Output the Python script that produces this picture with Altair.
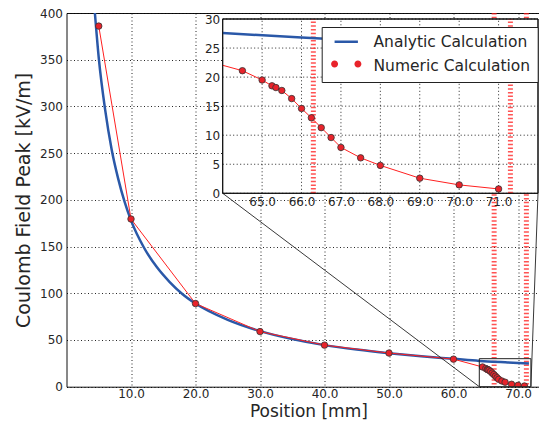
import altair as alt
import pandas as pd

# ---------------- data ----------------
series_names = ["Analytic Calculation", "Numeric Calculation"]

analytic_x = [4.4, 5, 6, 7, 8, 9, 10, 12, 14, 16, 18, 20, 25, 30, 35, 40, 45, 50, 55, 60, 64, 66, 68, 70, 71.7]
analytic_y = [400, 352, 296, 254, 223, 198, 178, 149, 128, 112, 99, 89, 71.5, 59.5, 51, 44.5, 39.7, 35.8, 32.5, 29.8, 27.6, 26.8, 26.1, 25.4, 24.8]

numeric_x = [5, 10, 20, 30, 40, 50, 60, 64.5, 65.0, 65.25, 65.35, 65.5, 65.75, 66.0, 66.25, 66.5, 66.75, 67.0, 67.5, 68.0, 69.0, 70.0, 71.0]
numeric_y = [386, 179.5, 89, 59, 44.5, 36, 29.5, 21.1, 19.5, 18.5, 18.2, 17.7, 16.3, 14.6, 13.0, 11.3, 9.6, 7.9, 6.1, 4.8, 2.6, 1.45, 0.75]

marker_x = [66.3, 71.3]

main_xticks = [10, 20, 30, 40, 50, 60, 70]
main_yticks = [0, 50, 100, 150, 200, 250, 300, 350, 400]
inset_xticks = [65, 66, 67, 68, 69, 70, 71]
inset_yticks = [0, 5, 10, 15, 20, 25, 30]

main_xdomain = [0, 75]
main_ydomain = [0, 400]
inset_xdomain = [64, 72]
inset_ydomain = [0, 30]

# ---------------- styles / layout ----------------
BLUE = "#2a58a8"
RED_LINE = "#ff2020"
RED_FILL = "#e8232b"
EDGE = "#333333"
TXT = "#262626"
FONT = "DejaVu Sans"

PAD_LEFT = 58.5
PAD_TOP = 5
SVG_W = 531
SVG_H = 413
MAIN_W = 483.75
MAIN_H = 373.7
INSET_LEFT = 156.2
INSET_W = 315.3
INSET_TOP = 6.0
INSET_BOTTOM = 180.3

LEG_X = 255.2
LEG_Y = 14
LEG_ROW = 22.3
LINE_PATH = "M-2,0L2,0"
DOTS_PATH = ("M-1.4,0A0.6,0.6 0 1,0 -2.6,0A0.6,0.6 0 1,0 -1.4,0Z "
             "M2.6,0A0.6,0.6 0 1,0 1.4,0A0.6,0.6 0 1,0 2.6,0Z")

ana = pd.DataFrame({"x": analytic_x, "y": analytic_y, "series": series_names[0]})
num = pd.DataFrame({"x": numeric_x, "y": numeric_y, "series": series_names[1]})
mk = pd.DataFrame({"x": marker_x})
box = pd.DataFrame({"x": [inset_xdomain[0]], "x2": [inset_xdomain[1]],
                    "y": [inset_ydomain[0]], "y2": [inset_ydomain[1]]})
ixt = pd.DataFrame({"x": inset_xticks})
iyt = pd.DataFrame({"y": inset_yticks})

# ---------------- main plot ----------------
xs = alt.Scale(domain=main_xdomain, nice=False, zero=False)
ys = alt.Scale(domain=main_ydomain, nice=False)

x_axis = alt.Axis(values=main_xticks, format=".1f", title="Position [mm]", grid=True,
                  gridColor="#000000", gridDash=[1, 2.5], gridWidth=1, gridOpacity=0.85,
                  ticks=False, domain=False, labelFontSize=12, labelColor=TXT, labelFont=FONT,
                  labelPadding=2, titleFontSize=17, titleFontWeight="normal", titleColor=TXT,
                  titleFont=FONT, titleBaseline="alphabetic", titleY=30)
y_axis = alt.Axis(values=main_yticks, format="d", title="Coulomb Field Peak [kV/m]", grid=True,
                  gridColor="#000000", gridDash=[1, 2.5], gridWidth=1, gridOpacity=0.85,
                  ticks=False, domain=False, labelFontSize=12, labelColor=TXT, labelFont=FONT,
                  labelPadding=4, titleFontSize=19, titleFontWeight="normal", titleColor=TXT,
                  titleFont=FONT, titlePadding=6)

X = alt.X("x:Q", scale=xs, axis=x_axis)
Y = alt.Y("y:Q", scale=ys, axis=y_axis)

m_vlines = alt.Chart(mk).mark_rule(color="#ff1a1a", strokeWidth=5, strokeDash=[1.5, 2.2],
                                   opacity=0.75).encode(x=X)
m_blue = alt.Chart(ana).mark_line(color=BLUE, strokeWidth=2.5, interpolate="monotone",
                                  clip=True).encode(x=X, y=Y)
m_red = alt.Chart(num).mark_line(color=RED_LINE, strokeWidth=1, clip=True).encode(x=X, y=Y)
m_pts = alt.Chart(num).mark_circle(size=42, color=RED_FILL, stroke=EDGE, strokeWidth=0.8,
                                   opacity=1, clip=True).encode(x=X, y=Y)
m_box = alt.Chart(box).mark_rect(fillOpacity=0, stroke="#222222", strokeWidth=1).encode(
    x=X, x2="x2:Q", y=Y, y2="y2:Q")
m_con1 = alt.Chart(box).mark_rule(color="#222222", strokeWidth=0.9).encode(
    x=X, y=Y, x2=alt.value(INSET_LEFT), y2=alt.value(INSET_BOTTOM))
m_con2 = alt.Chart(box).mark_rule(color="#222222", strokeWidth=0.9).encode(
    x=alt.X("x2:Q", scale=xs, axis=x_axis), y=Y,
    x2=alt.value(INSET_LEFT + INSET_W), y2=alt.value(INSET_BOTTOM))

main_layer = alt.layer(m_vlines, m_blue, m_red, m_pts, m_box, m_con1, m_con2)

# ---------------- inset (own scales mapped into a sub-rectangle) ----------------
ixs = alt.Scale(domain=inset_xdomain, nice=False, zero=False,
                range=[INSET_LEFT, INSET_LEFT + INSET_W])
iys = alt.Scale(domain=inset_ydomain, nice=False, range=[INSET_BOTTOM, INSET_TOP])
ix_axis = alt.Axis(orient="bottom", offset=-(MAIN_H - INSET_BOTTOM), values=inset_xticks,
                   format=".1f", title=None, grid=False, ticks=False, domain=False,
                   labelFontSize=12, labelColor=TXT, labelFont=FONT, labelPadding=3, zindex=1)
iy_axis = alt.Axis(orient="left", offset=-INSET_LEFT, values=inset_yticks, format="d",
                   title=None, grid=False, ticks=False, domain=False, labelFontSize=12,
                   labelColor=TXT, labelFont=FONT, labelPadding=3, zindex=1)
IX = alt.X("x:Q", scale=ixs, axis=ix_axis)
IY = alt.Y("y:Q", scale=iys, axis=iy_axis)

common_leg = dict(title=None, orient="none", legendX=LEG_X, padding=7, cornerRadius=0,
                  labelFontSize=15.5, labelFont=FONT, symbolSize=136, symbolOffset=9.8,
                  labelOffset=19.5, rowPadding=LEG_ROW - 15.5)

leg_a = alt.Legend(legendY=LEG_Y, fillColor="white", strokeColor="#222222",
                   labelColor=TXT, symbolType=LINE_PATH, symbolStrokeWidth=2.5,
                   symbolFillColor="transparent", symbolOpacity=1, zindex=1, **common_leg)
COLOR = alt.Color("series:N", scale=alt.Scale(domain=series_names, range=[BLUE, "transparent"]),
                  legend=leg_a)
leg_c = alt.Legend(legendY=LEG_Y + LEG_ROW, labelOpacity=0, symbolType=LINE_PATH,
                   symbolStrokeColor=RED_LINE, symbolStrokeWidth=1.2, symbolOpacity=1,
                   symbolFillColor="transparent", zindex=2, **common_leg)
DASH = alt.StrokeDash("series:N", scale=alt.Scale(domain=[series_names[1]], range=[[1, 0]]),
                      legend=leg_c)
leg_b = alt.Legend(legendY=LEG_Y + LEG_ROW, labelOpacity=0, symbolType=DOTS_PATH,
                   symbolFillColor=RED_FILL, symbolStrokeColor=EDGE, symbolStrokeWidth=0.7,
                   symbolOpacity=1, zindex=3, **common_leg)
SHAPE = alt.Shape("series:N", scale=alt.Scale(domain=[series_names[1]], range=[DOTS_PATH]),
                  legend=leg_b)

X0 = inset_xdomain[0]
X1 = inset_xdomain[1]
inside = f"datum.x >= {X0} && datum.x <= {X1}"

i_bg = alt.Chart(box).mark_rect(fill="white", stroke="#111111", strokeWidth=1).encode(
    x=IX, x2="x2:Q", y=IY, y2="y2:Q")
i_gx = alt.Chart(ixt).mark_rule(color="#000000", strokeDash=[1, 2.5], strokeWidth=1,
                                opacity=0.85).encode(
    x=IX, y=alt.datum(inset_ydomain[0]), y2=alt.datum(inset_ydomain[1]))
i_gy = alt.Chart(iyt).mark_rule(color="#000000", strokeDash=[1, 2.5], strokeWidth=1,
                                opacity=0.85).encode(
    y=IY, x=alt.datum(X0), x2=alt.datum(X1))
i_vlines = alt.Chart(mk).mark_rule(color="#ff1a1a", strokeWidth=5, strokeDash=[1.5, 2.2],
                                   opacity=0.75).encode(
    x=IX, y=alt.datum(inset_ydomain[0]), y2=alt.datum(inset_ydomain[1]))
i_blue = alt.Chart(ana).transform_filter(inside).mark_line(
    strokeWidth=2.5, interpolate="monotone").encode(x=IX, y=IY, color=COLOR)
# part of the numeric segment that enters the inset from the left (clipped at the inset edge)
i_stub = alt.Chart(num).transform_window(
    px="lag(x)", py="lag(y)", sort=[alt.SortField("x")]
).transform_filter(f"datum.px < {X0} && datum.x >= {X0}").transform_calculate(
    cx=f"{X0}",
    cy=f"datum.py + (datum.y - datum.py) * ({X0} - datum.px) / (datum.x - datum.px)"
).mark_rule(color=RED_LINE, strokeWidth=1).encode(
    x=alt.X("cx:Q", scale=ixs, axis=ix_axis), y=alt.Y("cy:Q", scale=iys, axis=iy_axis),
    x2="x:Q", y2="y:Q")
i_red = alt.Chart(num).transform_filter(inside).mark_line(
    color=RED_LINE, strokeWidth=1).encode(x=IX, y=IY)
i_pts = alt.Chart(num).transform_filter(inside).mark_circle(
    size=42, color=RED_FILL, stroke=EDGE, strokeWidth=0.8, opacity=1).encode(x=IX, y=IY)
i_frame = alt.Chart(box).mark_rect(fillOpacity=0, stroke="#111111", strokeWidth=1).encode(
    x=IX, x2="x2:Q", y=IY, y2="y2:Q")
i_leg_line = alt.Chart(num).transform_filter("false").mark_line(
    color=RED_LINE, strokeWidth=1).encode(x=IX, y=IY, strokeDash=DASH)
i_leg_dots = alt.Chart(num).transform_filter("false").mark_point(
    filled=True, fill=RED_FILL, stroke=EDGE, strokeWidth=0.7, opacity=1).encode(
    x=IX, y=IY, shape=SHAPE)

inset_layer = alt.layer(i_bg, i_gx, i_gy, i_vlines, i_blue, i_stub, i_red, i_pts, i_frame,
                        i_leg_line, i_leg_dots)

chart = alt.layer(main_layer, inset_layer).resolve_scale(
    x="independent", y="independent"
).resolve_axis(
    x="independent", y="independent"
).properties(
    width=MAIN_W, height=MAIN_H,
    autosize=alt.AutoSizeParams(type="none"),
    padding={"left": PAD_LEFT, "top": PAD_TOP, "right": SVG_W - PAD_LEFT - MAIN_W,
             "bottom": SVG_H - PAD_TOP - MAIN_H},
    view=alt.ViewBackground(stroke="#111111", strokeWidth=1, fill="white"),
).configure(font=FONT)

chart.save("out.html", embed_options={"renderer": "svg", "actions": False})
